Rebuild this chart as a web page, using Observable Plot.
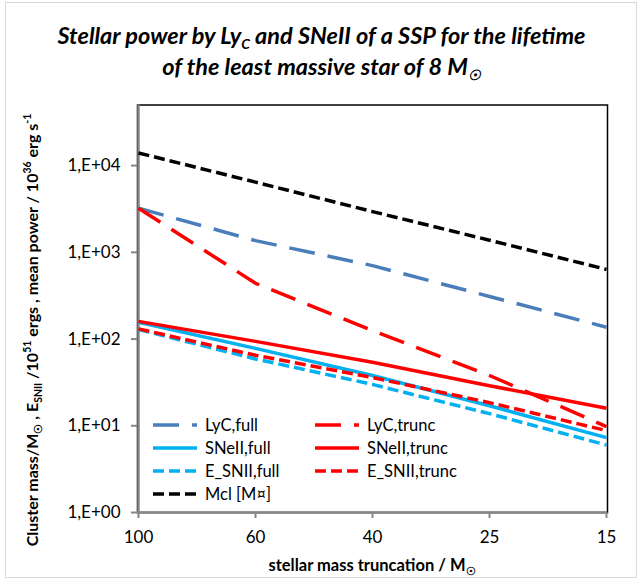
<!DOCTYPE html>
<html>
<head>
<meta charset="utf-8">
<script src="https://cdn.jsdelivr.net/npm/d3@7"></script>
<script src="https://cdn.jsdelivr.net/npm/@observablehq/plot@0.6"></script>
<style>
  body { margin: 0; background: #fff; font-family: Lato, "Open Sans", sans-serif; color: #000; }
  #chart { position: relative; width: 643px; height: 583px; overflow: hidden; }
  #border { position: absolute; left: 5px; top: 2px; width: 630px; height: 574px; border: 1px solid #d9d9d9; }
  #title { position: absolute; left: 0; top: 20px; width: 643px; text-align: center;
           font-weight: bold; font-style: italic; font-size: 23.5px; line-height: 31px; }
  #title sub { font-size: 14px; vertical-align: -5px; line-height: 0; }
  #plot { position: absolute; left: 0; top: 90px; }
  #ytitle { position: absolute; left: 31px; top: 330px; transform: translate(-50%, -50%) rotate(-90deg);
            white-space: nowrap; font-weight: bold; font-size: 16px; }
  #xtitle { position: absolute; left: 372px; top: 565px; transform: translate(-50%, -50%);
            white-space: nowrap; font-weight: bold; font-size: 16.5px; }
  sub, sup { line-height: 0; font-size: 10.5px; }
  #legend { position: absolute; left: 0; top: 0; }
  .item { position: absolute; display: flex; align-items: center; height: 20px; font-size: 16.5px; white-space: nowrap; }
  .item svg { margin-right: 8px; }
</style>
</head>
<body>
<div id="chart">
  <div id="border"></div>
  <div id="title">Stellar power by Ly<sub>C</sub> and SNeII of a SSP for the lifetime<br>of the least massive star of 8 M<sub>&#9737;</sub></div>
  <div id="plot"></div>
  <div id="ytitle">Cluster mass/M<sub>&#9737;</sub> , E<sub>SNII</sub> /10<sup>51</sup> ergs , mean power / 10<sup>36</sup> erg s<sup>-1</sup></div>
  <div id="xtitle">stellar mass truncation / M<sub>&#9737;</sub></div>
  <div id="legend"></div>
</div>
<script>
// Upper stellar mass cut-off (categories, evenly spaced on the axis)
const masses = ["100", "60", "40", "25", "15"];

// Series values per truncation mass
const lycFull    = [3230, 1365, 703, 310, 137];
const lycTrunc   = [3230, 440, 125, 38, 9.8];
const sneFull    = [156, 78, 38, 17, 7.3];
const sneTrunc   = [160, 94, 54, 29, 15.9];
const esnFull    = [129, 59, 30, 13.8, 6.0];
const esnTrunc   = [131, 65, 36, 18.5, 8.8];
const mcl        = [14000, 6450, 2950, 1380, 635];

const seriesNames = ["LyC,full", "LyC,trunc", "SNeII,full", "SNeII,trunc", "E_SNII,full", "E_SNII,trunc", "Mcl [M¤]"];
const seriesValues = [lycFull, lycTrunc, sneFull, sneTrunc, esnFull, esnTrunc, mcl];

// y tick values (decades)
const yTicks = [1, 10, 100, 1000, 10000];

const BLUE = "#4a7ebb", CYAN = "#00b0f0", RED = "#ff0000", BLACK = "#000000";
const LONG = "26,13", SHORT = "11,5";
const styles = [
  {stroke: BLUE,  dash: LONG},
  {stroke: RED,   dash: LONG},
  {stroke: CYAN,  dash: null},
  {stroke: RED,   dash: null},
  {stroke: CYAN,  dash: SHORT},
  {stroke: RED,   dash: SHORT},
  {stroke: BLACK, dash: SHORT}
];

const table = seriesNames.map((name, i) =>
  masses.map((m, j) => ({series: name, mass: m, value: seriesValues[i][j]})));

const fmt = d => "1,E+" + String(Math.round(Math.log10(d))).padStart(2, "0");

const lineMarks = table.map((rows, i) => Plot.line(rows, {
  x: "mass", y: "value",
  stroke: styles[i].stroke,
  strokeWidth: 3.5,
  strokeDasharray: styles[i].dash ?? undefined,
  strokeLinecap: "butt",
  strokeLinejoin: "round"
}));

const chart = Plot.plot({
  width: 643,
  height: 493,
  marginLeft: 137,
  marginRight: 36,
  marginTop: 14.5,
  marginBottom: 71,
  style: {fontFamily: "Lato, 'Open Sans', sans-serif", fontSize: "17px", color: "#000", background: "transparent"},
  x: {type: "point", domain: masses, padding: 0},
  y: {type: "log", domain: [1, 50000]},
  marks: [
    Plot.frame({stroke: "#000", strokeWidth: 1.5}),
    Plot.ruleY([1], {stroke: "#868686", strokeWidth: 2.5}),
    Plot.ruleX([masses[0]], {stroke: "#868686", strokeWidth: 2.5}),
    Plot.axisY({ticks: yTicks, tickFormat: fmt, tickSize: 6, tickPadding: 11,
                stroke: "#868686", strokeWidth: 2, label: null, fontSize: 17}),
    Plot.axisX({tickSize: 6, tickPadding: 12, stroke: "#868686", strokeWidth: 2,
                label: null, fontSize: 17}),
    ...lineMarks
  ]
});
document.getElementById("plot").appendChild(chart);

// Legend inside the plot area: two columns, row-wise order
const legend = d3.select("#legend");
const colX = [153, 315];
const rowY = [425, 448, 471, 494];
seriesNames.forEach((name, i) => {
  const col = i === 6 ? 0 : i % 2;
  const row = i === 6 ? 3 : Math.floor(i / 2);
  const item = legend.append("div").attr("class", "item")
    .style("left", colX[col] + "px").style("top", (rowY[row] - 10) + "px");
  const svg = item.append("svg").attr("width", 44).attr("height", 10);
  svg.append("line").attr("x1", 0).attr("x2", 44).attr("y1", 5).attr("y2", 5)
    .attr("stroke", styles[i].stroke).attr("stroke-width", 3.5)
    .attr("stroke-dasharray", styles[i].dash);
  item.append("span").text(name);
});
</script>
</body>
</html>
